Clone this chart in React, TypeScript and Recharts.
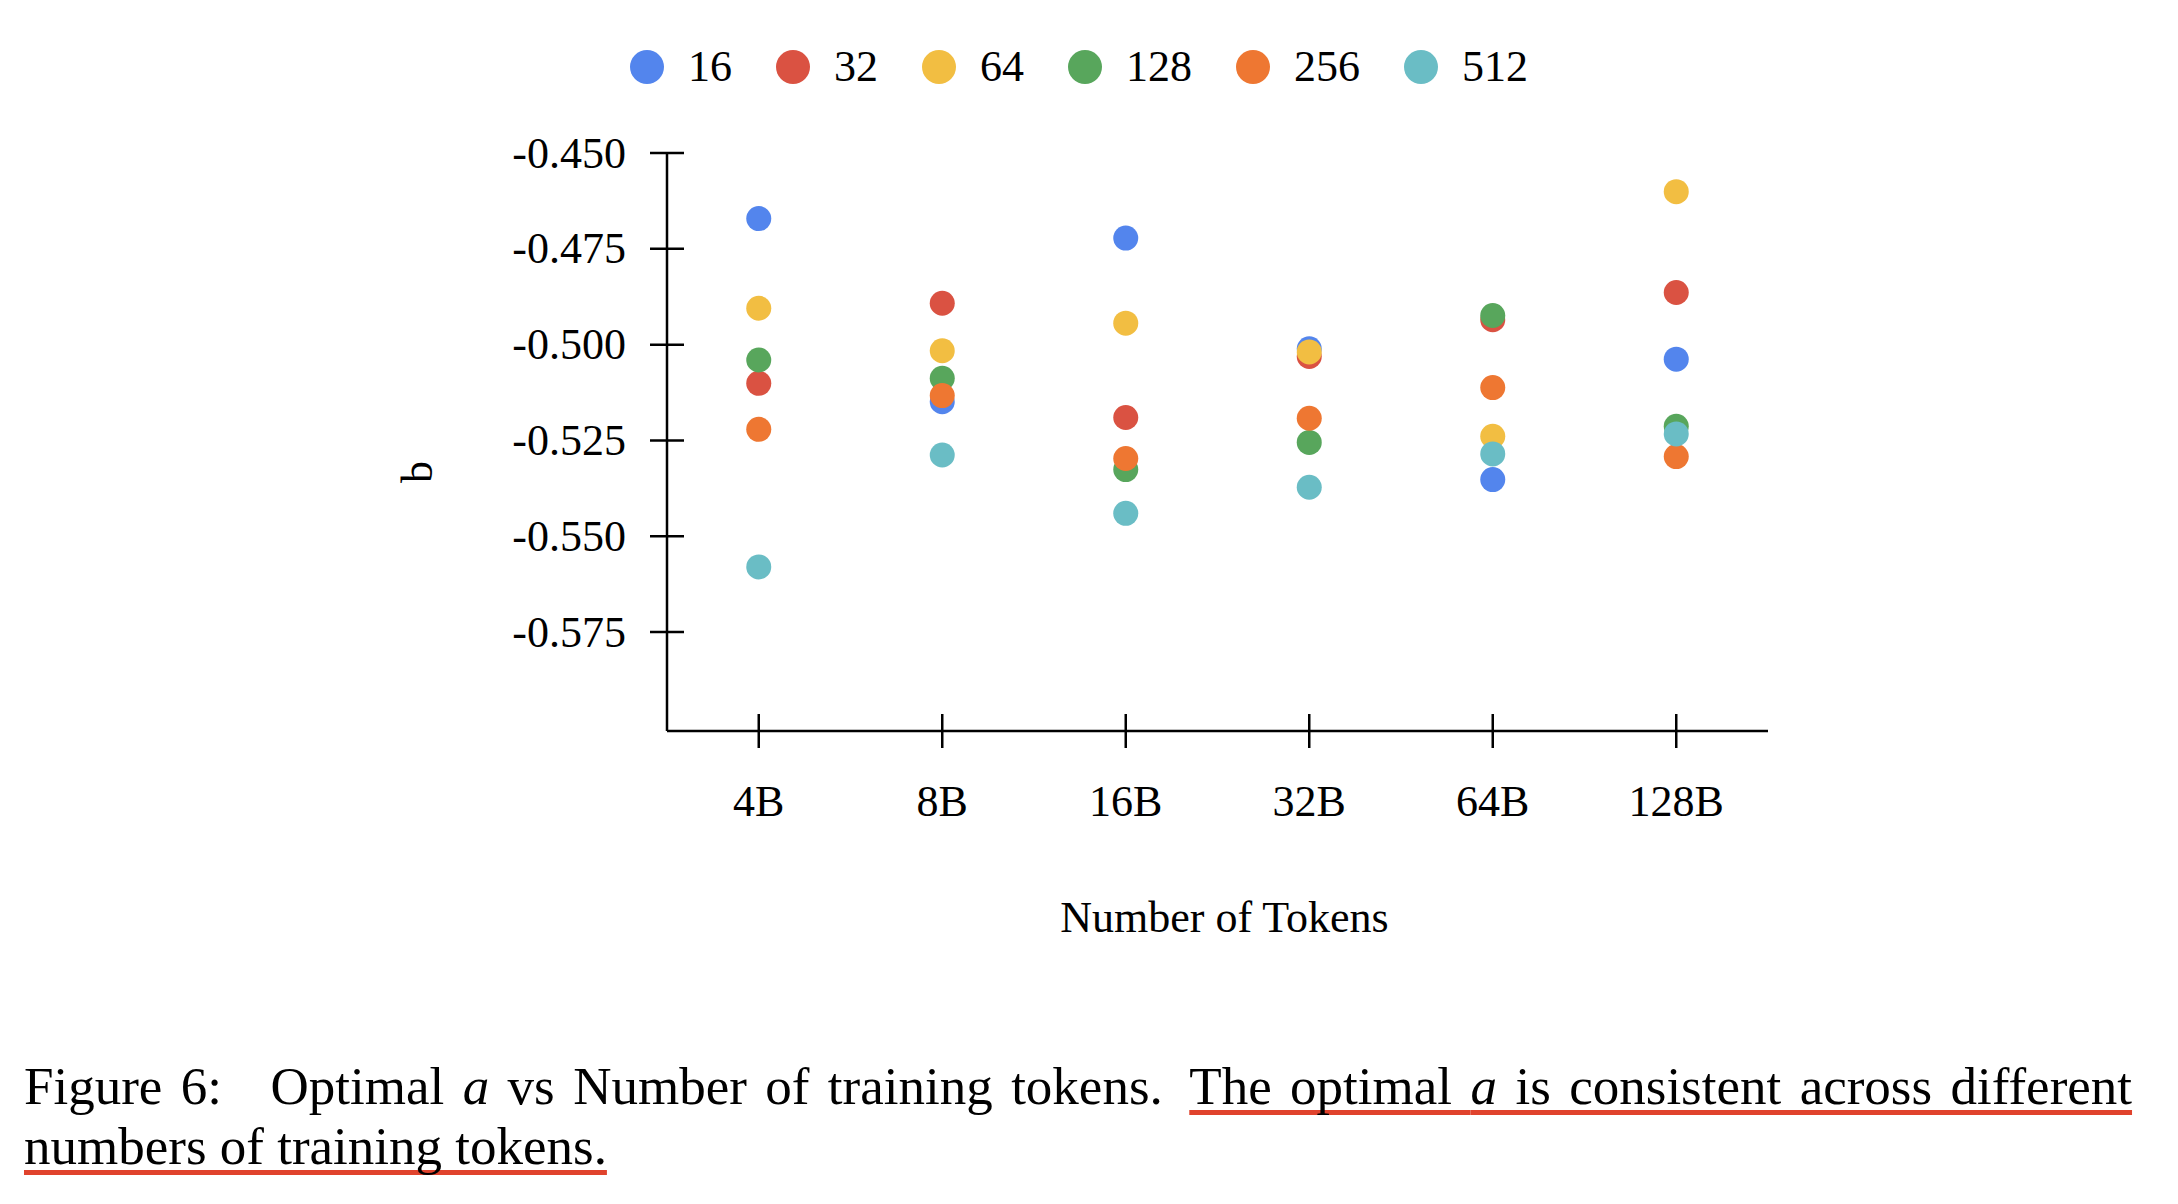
import React from 'react';
import { ScatterChart, Scatter, XAxis, YAxis } from 'recharts';

const tokens = ['4B', '8B', '16B', '32B', '64B', '128B'];
const yTicks = [-0.575, -0.55, -0.525, -0.5, -0.475, -0.45];

const batch16 = [-0.4671, -0.5149, -0.4722, -0.5011, -0.5352, -0.5038];
const batch32 = [-0.5101, -0.4892, -0.519, -0.5031, -0.4935, -0.4864];
const batch64 = [-0.4905, -0.5016, -0.4944, -0.5019, -0.5239, -0.4601];
const batch128 = [-0.504, -0.5088, -0.5326, -0.5255, -0.4924, -0.5213];
const batch256 = [-0.5221, -0.5133, -0.5297, -0.5192, -0.5112, -0.5292];
const batch512 = [-0.558, -0.5288, -0.544, -0.5372, -0.5285, -0.5233];

const series = [
  { name: '16', values: batch16, color: '#5385ed' },
  { name: '32', values: batch32, color: '#da5242' },
  { name: '64', values: batch64, color: '#f2be42' },
  { name: '128', values: batch128, color: '#58a65c' },
  { name: '256', values: batch256, color: '#ee7732' },
  { name: '512', values: batch512, color: '#6abdc5' },
];

const FONT = '"Liberation Serif", "Times New Roman", serif';

const YTick = (props: any) => {
  const { x, y, payload } = props;
  return (
    <g>
      <line x1={x - 17} x2={x + 17} y1={y} y2={y} stroke="#000" strokeWidth={2.5} />
      <text x={x - 41} y={y} dy="0.33em" textAnchor="end" fontSize={44} fontFamily={FONT} fill="#000">
        {payload.value.toFixed(3)}
      </text>
    </g>
  );
};

const XTick = (props: any) => {
  const { x, y, payload } = props;
  return (
    <g>
      <line x1={x} x2={x} y1={y - 17} y2={y + 17} stroke="#000" strokeWidth={2.5} />
      <text x={x} y={y + 85} textAnchor="middle" fontSize={44} fontFamily={FONT} fill="#000">
        {tokens[payload.value]}
      </text>
    </g>
  );
};

const YTitle = (props: any) => {
  const { x, y, width, height } = props.viewBox;
  const cx = x + width - 250;
  const cy = y + height / 2 + 30;
  return (
    <text x={cx} y={cy} transform={`rotate(-90 ${cx} ${cy})`} textAnchor="middle" dominantBaseline="central"
      fontSize={44} fontFamily={FONT} fill="#000">b</text>
  );
};

const XTitle = (props: any) => {
  const { x, y, width } = props.viewBox;
  return (
    <text x={x + width / 2 + 7} y={y + 201} textAnchor="middle" fontSize={44} fontFamily={FONT} fill="#000">
      Number of Tokens
    </text>
  );
};

const dot = (color: string) => (p: any) => <circle cx={p.cx} cy={p.cy} r={12.5} fill={color} />;

const ul: React.CSSProperties = {
  textDecoration: 'underline',
  textDecorationColor: '#e0432d',
  textDecorationThickness: '5px',
  textUnderlineOffset: '6px',
  textDecorationSkipInk: 'none',
};

export default function App() {
  return (
    <div style={{ position: 'absolute', left: 0, top: 0, width: 2178, height: 1204, background: '#fff', fontFamily: FONT, color: '#000' }}>
      <div style={{ position: 'absolute', left: 630, top: 45, display: 'flex', alignItems: 'center', fontSize: 44, lineHeight: '44px' }}>
        {series.map((s) => (
          <div key={s.name} style={{ display: 'flex', alignItems: 'center', marginRight: 44 }}>
            <div style={{ width: 34, height: 34, borderRadius: 17, background: s.color }} />
            <span style={{ marginLeft: 24 }}>{s.name}</span>
          </div>
        ))}
      </div>

      <ScatterChart width={2178} height={1000} margin={{ top: 153, right: 410, bottom: 0, left: 0 }}>
        <XAxis
          type="number"
          dataKey="x"
          domain={[-0.5, 5.5]}
          ticks={[0, 1, 2, 3, 4, 5]}
          height={269}
          tickSize={0}
          tickMargin={0}
          tickLine={false}
          axisLine={{ stroke: '#000', strokeWidth: 2.5 }}
          tick={<XTick />}
          label={<XTitle />}
          interval={0}
        />
        <YAxis
          type="number"
          dataKey="y"
          domain={[-0.6008, -0.45]}
          ticks={yTicks}
          width={667}
          tickSize={0}
          tickMargin={0}
          tickLine={false}
          axisLine={{ stroke: '#000', strokeWidth: 2.5 }}
          tick={<YTick />}
          label={<YTitle />}
          interval={0}
        />
        {series.map((s) => (
          <Scatter
            key={s.name}
            name={s.name}
            data={s.values.map((v, i) => ({ x: i, y: v }))}
            fill={s.color}
            shape={dot(s.color)}
            isAnimationActive={false}
          />
        ))}
      </ScatterChart>

      <div style={{ position: 'absolute', left: 24, top: 1056, width: 2108, fontSize: 53, lineHeight: '60px' }}>
        <div style={{ textAlign: 'justify', textAlignLast: 'justify', whiteSpace: 'normal' }}>
          Figure 6:<span style={{ marginRight: 30 }}> </span>Optimal <i>a</i> vs Number of training tokens.{'\u2002'}
          <span style={ul}>The optimal <i>a</i> is consistent across different</span>
        </div>
        <div>
          <span style={ul}>numbers of training tokens.</span>
        </div>
      </div>
    </div>
  );
}
